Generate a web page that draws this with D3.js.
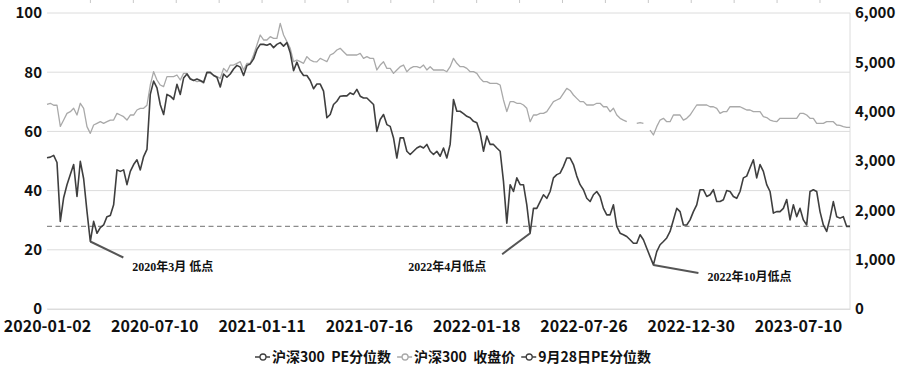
<!DOCTYPE html>
<html>
<head>
<meta charset="utf-8">
<script src="https://cdn.jsdelivr.net/npm/d3@7"></script>
<style>
  body { margin: 0; background: #fff; }
  svg { display: block; font-family: "Noto Sans CJK SC", "Noto Sans", sans-serif; }
</style>
</head>
<body>
<div id="chart"></div>
<script>
// 沪深300 PE分位数（左轴）
const peValues = [
  51.1, 51.3, 51.9, 49.5, 29.6, 37.6, 42, 45.4, 48.8, 38,
  49.9, 44, 33, 22.8, 29.6, 25.6, 27.5, 28.4, 31.2, 31.6,
  35.2, 47, 46.5, 47, 42, 46.5, 48.8, 50.4, 47, 51.5,
  53.9, 72.5, 77, 74.7, 69, 65.7, 72.5, 71.9, 70.8, 75.9,
  72.5, 78, 79.4, 77.7, 77.2, 77.7, 77.2, 76.6, 80, 80,
  78.9, 78.3, 75, 79.4, 78.3, 79.4, 81.1, 82.3, 81.7, 78.9,
  82.3, 82.8, 84.5, 87.7, 89.4, 89.4, 89.1, 89.6, 88.3, 89.4,
  90, 88.8, 90, 86.6, 80.5, 83.4, 80.5, 78.9, 78.9, 77.2,
  74.4,
  76, 76, 73.6, 64.6, 65.7, 69.1, 70.2, 71.9, 72, 72,
  73, 72.5, 74.2, 71.9, 71.3, 71.3, 70.2, 69.1, 60, 64,
  65.7, 62.3, 61.7, 57.8, 51, 57.8, 57.8, 53.3, 52.2, 53.3,
  54.4, 55, 54.4, 55.6, 53.3, 52.2, 53.3, 51.6, 54.4, 51,
  55.6, 70.8, 66.8, 66.8, 66, 65.1, 64.6, 63.4, 62.9, 59.5,
  53.3, 58.4, 55.6, 55.6, 54.4, 53.3, 43.1, 29, 42, 39.7,
  44.3, 42, 42, 35.2, 25.6, 34, 34, 36.3, 38.6, 37.4,
  39.7, 44.3, 45.4, 45.9, 48.2, 51, 51, 48.8, 44.9, 42,
  40.3, 37.4, 36.3, 38.6,
  39.7, 38, 34, 31.8, 31.8, 35.2, 27.9, 25.6, 25.1, 24.5,
  23.4, 22.2, 22.2, 25.1, 23.4, 20.5, 17.7, 14.9, 19.4, 21.7,
  22.8, 24, 26.2, 30.1, 34, 32.9, 28.4, 28.4, 30.1, 32.9,
  35.2, 40.3, 40.3, 38, 38.6, 40.3, 36.3, 36.3, 36.9, 40,
  39.7, 38, 37.4, 39.7, 44.3, 44.9, 47.7, 50.4, 44.3, 48.8,
  46.5, 42, 39.7, 32.4, 32.9, 32.9, 34, 37, 30.1, 35.2,
  31.2, 34, 30.1, 28.4, 39.7, 40.3, 39.7, 32.9, 28.4, 26.2,
  30.7, 36.3, 31.2, 30.7, 31.2, 27.9, 27.9
];

// 沪深300 收盘价（右轴）
const closeValues = [
  4150, 4170, 4130, 4130, 3700, 3830, 3966, 4000, 4068, 3932,
  4170, 4068, 3696, 3560, 3730, 3763, 3797, 3763, 3797, 3830,
  3830, 3966, 3932, 3898, 3830, 3932, 3932, 4034, 4068, 4068,
  4130, 4540, 4810, 4642, 4540, 4507, 4710, 4710, 4710, 4743,
  4642, 4777, 4777, 4675, 4642, 4608, 4620, 4575, 4777, 4777,
  4743, 4710, 4675, 4878, 4810, 4945, 4945, 4980, 5013, 4845,
  4980, 4980, 5149, 5351, 5554, 5453, 5453, 5520, 5486, 5486,
  5790, 5554, 5419, 5284, 5013, 5047, 5013, 4980, 5115, 5047,
  5013,
  5010, 5081, 5047, 5013, 5149, 5182, 5250, 5284, 5216, 5149,
  5149, 5149, 5149, 5180, 5081, 5115, 5081, 5081, 4845, 4945,
  5013, 4878, 4878, 4777, 4845, 4912, 4945, 4810, 4878, 4912,
  4912, 4890, 4945, 4845, 4912, 4845, 4845, 4845, 4845, 4810,
  4912, 5081, 4980, 4912, 4912, 4878, 4810, 4810, 4777, 4675,
  4608, 4608, 4575, 4575, 4575, 4540, 4237, 4000, 4203, 4203,
  4170, 4170, 4135, 4068, 3797, 3932, 3932, 3966, 3966, 4000,
  4100, 4203, 4237, 4270, 4372, 4473, 4430, 4338, 4270, 4203,
  4203, 4135, 4135, 4135,
  4170, 4170, 4100, 4100, 4000, 4068, 3932, 3865, 3830, 3797,
  null, null, 3764, 3780, 3764, null, 3628, 3527, 3696, 3830,
  3865, 3797, 3797, 3932, 3932, 3932, 3830, 3865, 3932, 4034,
  4135, 4135, 4135, 4135, 4100, 4100, 4068, 3966, 4000, 4000,
  4100, 4100, 4100, 4100, 4068, 4034, 4034, 4000, 4000, 4000,
  3898, 3880, 3830, 3810, 3797, 3865, 3865, 3865, 3865, 3865,
  3865, 3966, 3966, 3932, 3865, 3865, 3764, 3764, 3764, 3797,
  3797, 3797, 3730, 3720, 3696, 3680, 3680
];

// 9月28日PE分位数
const peSep28 = 27.9;

const tickLabels = ["2020-01-02", "2020-07-10", "2021-01-11", "2021-07-16",
                    "2022-01-18", "2022-07-26", "2022-12-30", "2023-07-10"];
const labelStep = 32.2;   // points between two date labels

const leftTicks = [0, 20, 40, 60, 80, 100];
const rightTicks = [0, 1000, 2000, 3000, 4000, 5000, 6000];

const seriesNames = ["沪深300  PE分位数", "沪深300  收盘价", "9月28日PE分位数"];

const lows = [
  { i: 13,  label: "2020年3月 低点" },
  { i: 145, label: "2022年4月低点" },
  { i: 182, label: "2022年10月低点" }
];

const W = 900, H = 376;
const margin = { top: 13, right: 50, bottom: 67, left: 47 };
const width = W - margin.left - margin.right,
      height = H - margin.top - margin.bottom;

const darkColor = "#3f3f3f", lightColor = "#a9a9a9", gridColor = "#dcdcdc";

const svg = d3.select("#chart").append("svg")
    .attr("width", W)
    .attr("height", H);

const g = svg.append("g")
    .attr("transform", `translate(${margin.left},${margin.top})`);

const N = peValues.length;
const x = d3.scaleLinear().domain([0, N - 1]).range([0, width]);
const yL = d3.scaleLinear().domain([0, 100]).range([height, 0]);
const yR = d3.scaleLinear().domain([0, 6000]).range([height, 0]);

// grid
g.append("g")
  .selectAll("line")
  .data(leftTicks)
  .join("line")
    .attr("x1", 0)
    .attr("x2", width)
    .attr("y1", d => yL(d))
    .attr("y2", d => yL(d))
    .attr("stroke", gridColor)
    .attr("stroke-width", 1);

// right edge line
g.append("line")
  .attr("x1", width).attr("x2", width)
  .attr("y1", 0).attr("y2", height)
  .attr("stroke", gridColor);

// small ticks along the top edge
g.append("g")
  .attr("transform", `translate(0,${-margin.top + 3})`)
  .call(d3.axisTop(x)
    .tickValues(d3.range(labelStep * 0.4, N, labelStep * 0.4))
    .tickSize(3)
    .tickFormat(""))
  .call(a => a.select(".domain").remove())
  .call(a => a.selectAll("line").attr("stroke", "#c8c8c8"));

// left axis
g.append("g")
  .call(d3.axisLeft(yL).tickValues(leftTicks).tickSize(0).tickPadding(5))
  .call(a => a.select(".domain").remove())
  .call(a => a.selectAll("text")
    .attr("font-size", 15).attr("font-weight", "bold")
    .attr("fill", "#111").attr("dy", "0.33em")
    .style("font-family", "'Noto Sans CJK SC', sans-serif"));

// right axis
g.append("g")
  .attr("transform", `translate(${width},0)`)
  .call(d3.axisRight(yR).tickValues(rightTicks).tickSize(0).tickPadding(5)
    .tickFormat(d3.format(",")))
  .call(a => a.select(".domain").remove())
  .call(a => a.selectAll("text")
    .attr("font-size", 15).attr("font-weight", "bold")
    .attr("fill", "#111").attr("dy", "0.33em")
    .style("font-family", "'Noto Sans CJK SC', sans-serif"));

// bottom axis
g.append("g")
  .attr("transform", `translate(0,${height})`)
  .call(d3.axisBottom(x)
    .tickValues(tickLabels.map((d, i) => i * labelStep))
    .tickSize(0).tickPadding(12)
    .tickFormat((d, i) => tickLabels[i]))
  .call(a => a.select(".domain").attr("stroke", gridColor))
  .call(a => a.selectAll("text")
    .attr("font-size", 16).attr("font-weight", "bold")
    .attr("fill", "#111")
    .style("font-family", "'Noto Sans CJK SC', sans-serif"));

// dashed line 9月28日
g.append("line")
  .attr("x1", 0).attr("x2", width)
  .attr("y1", yL(peSep28)).attr("y2", yL(peSep28))
  .attr("stroke", "#8c8c8c")
  .attr("stroke-width", 1.3)
  .attr("stroke-dasharray", "5,3.5");

// close line
g.append("path")
  .datum(closeValues)
  .attr("fill", "none")
  .attr("stroke", lightColor)
  .attr("stroke-width", 1.3)
  .attr("stroke-linejoin", "round")
  .attr("d", d3.line()
    .defined(d => d !== null)
    .x((d, i) => x(i))
    .y(d => yR(d)));

// PE line
g.append("path")
  .datum(peValues)
  .attr("fill", "none")
  .attr("stroke", darkColor)
  .attr("stroke-width", 1.6)
  .attr("stroke-linejoin", "round")
  .attr("d", d3.line()
    .x((d, i) => x(i))
    .y(d => yL(d)));

// 低点 annotations
const noteLayout = [
  { lx: 33, ly: 16, tx: 42, ty: 29 },
  { lx: -28, ly: 21, tx: -122, ty: 38 },
  { lx: 45, ly: 8, tx: 54, ty: 16 }
];

const notes = g.selectAll("g.note")
  .data(lows)
  .join("g")
    .attr("class", "note")
    .attr("transform", d => `translate(${x(d.i)},${yL(peValues[d.i])})`);

notes.append("line")
  .attr("x1", 0).attr("y1", 0)
  .attr("x2", (d, i) => noteLayout[i].lx)
  .attr("y2", (d, i) => noteLayout[i].ly)
  .attr("stroke", "#555")
  .attr("stroke-width", 2);

notes.append("text")
  .attr("x", (d, i) => noteLayout[i].tx)
  .attr("y", (d, i) => noteLayout[i].ty)
  .attr("font-size", 12)
  .attr("font-weight", "bold")
  .attr("fill", "#111")
  .style("font-family", "'Liberation Serif', 'Noto Sans CJK SC', serif")
  .text(d => d.label);

// legend
const legendColors = [darkColor, lightColor, darkColor];
const legend = svg.append("g").attr("transform", "translate(255,357)");
let lx = 0;
seriesNames.forEach((name, i) => {
  const item = legend.append("g").attr("transform", `translate(${lx},0)`);
  item.append("line")
    .attr("x1", 0).attr("x2", 15).attr("y1", 0).attr("y2", 0)
    .attr("stroke", legendColors[i]).attr("stroke-width", 1.5);
  item.append("circle")
    .attr("cx", 8).attr("cy", 0).attr("r", 3)
    .attr("fill", "#fff").attr("stroke", legendColors[i]).attr("stroke-width", 1.3);
  const t = item.append("text")
    .attr("x", 17).attr("dy", "0.36em")
    .attr("font-size", 14).attr("font-weight", "bold").attr("fill", "#111")
    .style("white-space", "pre")
    .text(name);
  lx += 17 + t.node().getComputedTextLength() + 6;
});
</script>
</body>
</html>
